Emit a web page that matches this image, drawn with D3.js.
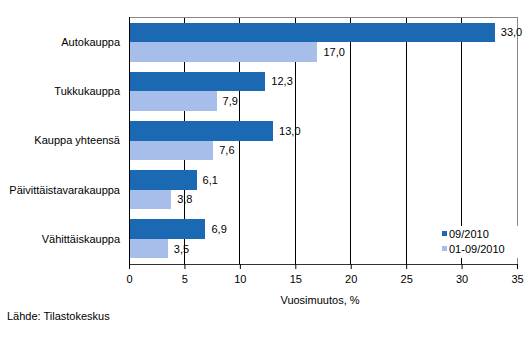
<!DOCTYPE html>
<html><head><meta charset="utf-8">
<script src="https://cdn.jsdelivr.net/npm/d3@7"></script>
<style>body{margin:0;background:#fff}svg{display:block}text{font-family:"Liberation Sans",Arial,sans-serif;font-size:11px;fill:#000}</style>
</head><body><svg id="c" width="532" height="358"></svg>
<script>
const categories = ["Autokauppa","Tukkukauppa","Kauppa yhteensä","Päivittäistavarakauppa","Vähittäiskauppa"];
const seriesNames = ["09/2010","01-09/2010"];
const values0910 = [33.0,12.3,13.0,6.1,6.9];
const values0109 = [17.0,7.9,7.6,3.8,3.5];
const xTicks = [0,5,10,15,20,25,30,35];
const colors = ["#1a69b2","#a7bdea"];

const svg = d3.select("#c");
const L=129, R=517, T=17, B=264;
const x = d3.scaleLinear().domain([0,35]).range([L,R]);
const y = d3.scaleBand().domain(categories).range([T,B]).paddingInner(0.208).paddingOuter(0.112);
const y1 = d3.scaleBand().domain(seriesNames).range([0,y.bandwidth()]);
const fmt = v => d3.format(".1f")(v).replace(".",",");

// gridlines
svg.append("g").selectAll("line").data(xTicks.filter(t=>t>0&&t<35)).join("line")
  .attr("x1",d=>x(d)).attr("x2",d=>x(d)).attr("y1",T).attr("y2",B)
  .attr("stroke","#000").attr("stroke-width",1).attr("shape-rendering","crispEdges");
// frame top/right
svg.append("line").attr("x1",L).attr("x2",R).attr("y1",T).attr("y2",T).attr("stroke","#888").attr("shape-rendering","crispEdges");
svg.append("line").attr("x1",R).attr("x2",R).attr("y1",T).attr("y2",B).attr("stroke","#888").attr("shape-rendering","crispEdges");

const data = categories.map((c,i)=>({c, vals:[values0910[i],values0109[i]]}));
const g = svg.append("g").selectAll("g").data(data).join("g").attr("transform",d=>`translate(0,${y(d.c)})`);
g.selectAll("rect").data(d=>d.vals.map((v,j)=>({v,s:seriesNames[j],j}))).join("rect")
  .attr("x",x(0)).attr("y",d=>y1(d.s)).attr("width",d=>x(d.v)-x(0)).attr("height",y1.bandwidth())
  .attr("fill",d=>colors[d.j]).attr("shape-rendering","crispEdges");
g.selectAll("text.v").data(d=>d.vals.map((v,j)=>({v,s:seriesNames[j],j}))).join("text").attr("class","v")
  .attr("x",d=>x(d.v)+6).attr("y",d=>y1(d.s)+y1.bandwidth()/2).attr("dy","0.35em").text(d=>fmt(d.v));

// category labels
svg.append("g").selectAll("text").data(categories).join("text")
  .attr("x",120).attr("y",d=>y(d)+y.bandwidth()/2).attr("dy","0.35em").attr("text-anchor","end").text(d=>d);

// legend
const lg = svg.append("g");
lg.append("rect").attr("x",438).attr("y",226).attr("width",84).attr("height",32).attr("fill","#fff");
seriesNames.forEach((s,i)=>{
  const yy = 234 + i*15;
  lg.append("rect").attr("x",442).attr("y",yy-3).attr("width",5).attr("height",5).attr("fill",colors[i]);
  lg.append("text").attr("x",449).attr("y",yy).attr("dy","0.35em").text(s);
});

// axes lines
svg.append("line").attr("x1",L).attr("x2",L).attr("y1",T).attr("y2",B).attr("stroke","#000").attr("shape-rendering","crispEdges");
const xa = svg.append("g").attr("transform",`translate(0,${B})`)
  .call(d3.axisBottom(x).tickValues(xTicks).tickSize(5).tickPadding(6).tickFormat(d=>d));
xa.select(".domain").attr("stroke","#333");
xa.selectAll("text").style("font-size","11px").attr("font-family","Liberation Sans, Arial");
xa.selectAll("line").attr("stroke","#000");

svg.append("text").attr("x",320).attr("y",300).attr("dy","0.35em").attr("text-anchor","middle").text("Vuosimuutos, %");
svg.append("text").attr("x",7).attr("y",316).attr("dy","0.35em").text("Lähde: Tilastokeskus");
</script></body></html>
